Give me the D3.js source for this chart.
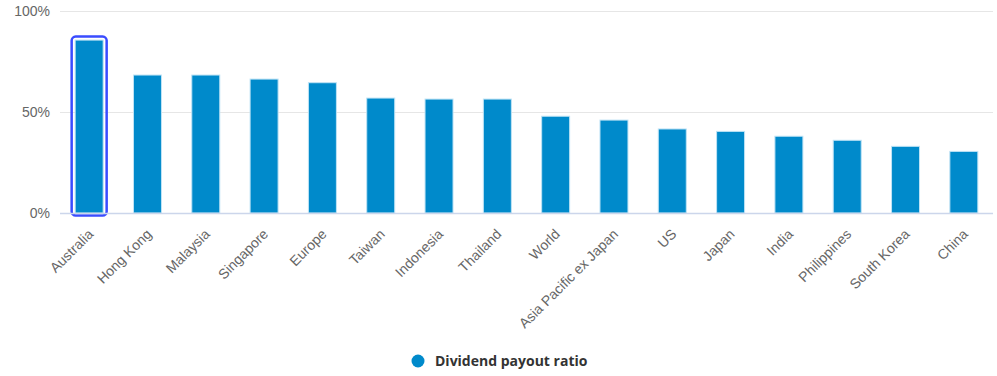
<!DOCTYPE html>
<html>
<head>
<meta charset="utf-8">
<script src="https://cdn.jsdelivr.net/npm/d3@7/dist/d3.min.js"></script>
<style>
  html, body { margin: 0; padding: 0; background: #fff; }
  svg { display: block; }
</style>
</head>
<body>
<div id="chart"></div>
<script>
const categories = ["Australia", "Hong Kong", "Malaysia", "Singapore", "Europe", "Taiwan", "Indonesia", "Thailand", "World", "Asia Pacific ex Japan", "US", "Japan", "India", "Philippines", "South Korea", "China"];
const payoutRatio = [85.6, 68.3, 68.3, 66.3, 64.5, 56.9, 56.4, 56.4, 47.9, 46.0, 41.6, 40.4, 38.0, 36.0, 33.0, 30.5];
const yTicks = [0, 50, 100];
const seriesName = "Dividend payout ratio";
const highlighted = "Australia";

const W = 997, H = 376;
const m = { left: 60, right: 4, top: 11, bottom: 163 };
const color = "#008ACB";

const svg = d3.select("#chart").append("svg").attr("width", W).attr("height", H);

const x = d3.scaleBand().domain(categories).range([m.left, W - m.right]).paddingInner(0.52).paddingOuter(0.26);
const y = d3.scaleLinear().domain([0, 100]).range([H - m.bottom, m.top]);

// gridlines
svg.append("g").selectAll("line").data(yTicks).join("line")
  .attr("x1", m.left).attr("x2", W - m.right)
  .attr("y1", d => Math.round(y(d)) + 0.5).attr("y2", d => Math.round(y(d)) + 0.5)
  .attr("stroke", "#e6e6e6").attr("stroke-width", 1);

// y labels
const yAxis = svg.append("g").attr("transform", `translate(${m.left - 10},0)`)
  .call(d3.axisLeft(y).tickValues(yTicks).tickFormat(d => d + "%").tickSize(0).tickPadding(0));
yAxis.select(".domain").remove();
yAxis.selectAll("text").attr("font-family", "'Liberation Sans', Arial, sans-serif")
  .attr("font-size", 14).attr("fill", "#666");

// bars
svg.append("g").selectAll("rect").data(categories).join("rect")
  .attr("x", d => x(d))
  .attr("y", (d, i) => y(payoutRatio[i]))
  .attr("width", x.bandwidth())
  .attr("height", (d, i) => y(0) - y(payoutRatio[i]))
  .attr("fill", color)
  .attr("stroke", "#bfe3f5").attr("stroke-width", 1);

// highlight
const hi = categories.indexOf(highlighted);
svg.append("rect")
  .attr("x", x(highlighted) - 3.5)
  .attr("y", y(payoutRatio[hi]) - 3.5)
  .attr("width", x.bandwidth() + 7)
  .attr("height", y(0) - y(payoutRatio[hi]) + 6)
  .attr("rx", 4)
  .attr("fill", "none").attr("stroke", "#3a4cff").attr("stroke-width", 2.5);

// x axis line
svg.append("line").attr("x1", m.left).attr("x2", W - m.right)
  .attr("y1", y(0) + 0.5).attr("y2", y(0) + 0.5)
  .attr("stroke", "#ccd6eb").attr("stroke-width", 1.5);

// x labels
const xAxis = svg.append("g").attr("transform", `translate(0,${y(0)})`)
  .call(d3.axisBottom(x).tickSize(0).tickPadding(0));
xAxis.select(".domain").remove();
xAxis.selectAll("text")
  .attr("font-family", "'Liberation Sans', Arial, sans-serif")
  .attr("font-size", 14).attr("fill", "#666")
  .attr("text-anchor", "end")
  .attr("dy", null).attr("y", 0)
  .attr("transform", "translate(5,22) rotate(-45)");

// legend
const lg = svg.append("g").attr("transform", "translate(418,361)");
lg.append("circle").attr("r", 6.5).attr("fill", color);
lg.append("text").attr("x", 17).attr("y", 0).attr("dy", "0.35em")
  .attr("font-family", "'Open Sans', 'Noto Sans', sans-serif").attr("font-weight", "bold")
  .attr("font-size", 14).attr("fill", "#333").text(seriesName);
</script>
</body>
</html>
